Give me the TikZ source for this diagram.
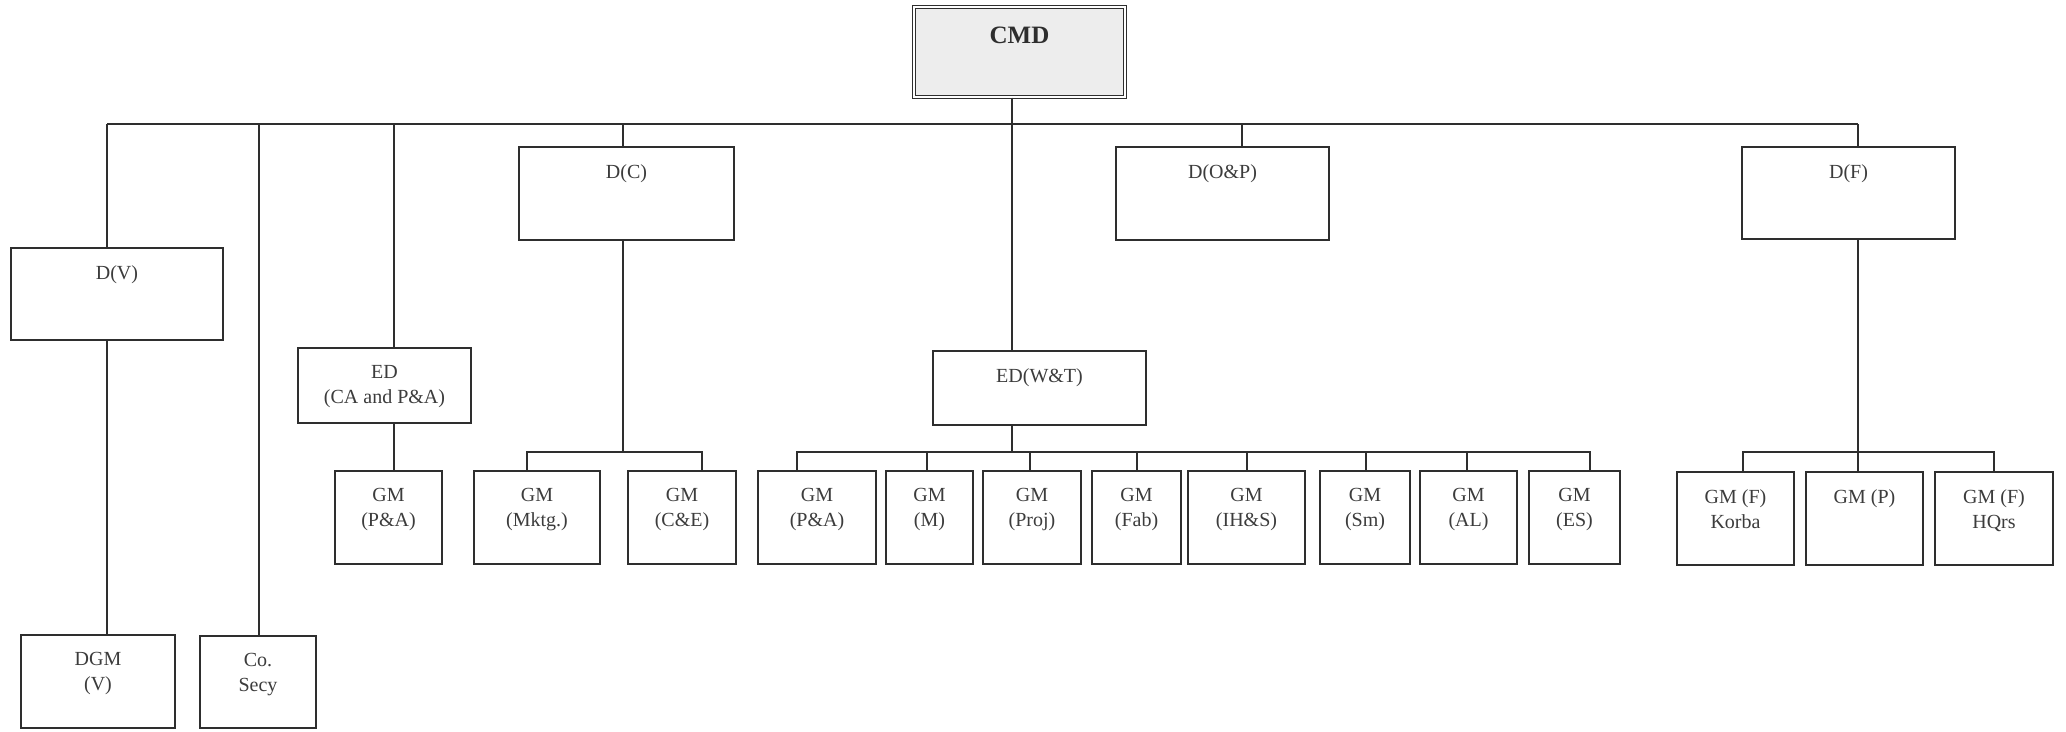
\documentclass[tikz,border=0pt]{standalone}
\usepackage{fontspec}
\setmainfont{Liberation Serif}
\definecolor{linec}{HTML}{2E2E2E}
\definecolor{textc}{HTML}{3C3C3C}
\definecolor{cmdfill}{HTML}{EDEDED}
\tikzset{
  box/.style={draw=linec, line width=2pt, rectangle, inner sep=0pt, outer sep=0pt, fill=white},
  txt/.style={anchor=north, align=center, inner sep=0pt, text=textc,
              font=\fontsize{20}{25}\selectfont, yshift=-17pt},
  conn/.style={draw=linec, line width=2pt},
}
\newcommand{\bx}[6]{% name, cx, cy, w, h, text
  \node[box, minimum width=#4pt, minimum height=#5pt,
        label={[txt]north:#6}] (#1) at (#2,#3) {};}
\begin{document}
\begin{tikzpicture}[x=1pt, y=-1pt]
\useasboundingbox (0,0) rectangle (2066,731);

% top node
\node[draw=linec, line width=1.4pt, double=white, double distance=1.8pt,
      fill=cmdfill, minimum width=211pt, minimum height=90pt, inner sep=0pt,
      label={[txt, yshift=-3pt, font=\fontsize{25}{30}\selectfont\bfseries, text=linec]north:CMD}]
      (CMD) at (1019.5,52) {};

% level 1
\bx{DV}{117}{294}{212}{92}{D(V)}
\bx{EDCA}{384.5}{385.5}{173}{75}{ED\\(CA and P\&A)}
\bx{DC}{626.5}{193.5}{215}{93}{D(C)}
\bx{EDWT}{1039.5}{388}{213}{74}{ED(W\&T)}
\bx{DOP}{1222.5}{193.5}{213}{93}{D(O\&P)}
\bx{DF}{1848.5}{193}{213}{92}{D(F)}

% bottom-left
\bx{DGM}{98}{681.5}{154}{93}{DGM\\(V)}
\bx{CoSecy}{258}{682}{116}{92}{Co.\\Secy}

% GM row
\bx{PA1}{388.5}{517.5}{107}{93}{GM\\(P\&A)}
\bx{Mktg}{537}{517.5}{126}{93}{GM\\(Mktg.)}
\bx{CE}{682}{517.5}{108}{93}{GM\\(C\&E)}
\bx{PA2}{817}{517.5}{118}{93}{GM\\(P\&A)}
\bx{M}{929.5}{517.5}{87}{93}{GM\\(M)}
\bx{Proj}{1032}{517.5}{98}{93}{GM\\(Proj)}
\bx{Fab}{1136.5}{517.5}{89}{93}{GM\\(Fab)}
\bx{IHS}{1246.5}{517.5}{117}{93}{GM\\(IH\&S)}
\bx{Sm}{1365}{517.5}{90}{93}{GM\\(Sm)}
\bx{AL}{1468.5}{517.5}{97}{93}{GM\\(AL)}
\bx{ES}{1574.5}{517.5}{91}{93}{GM\\(ES)}
\bx{Korba}{1735.5}{518.5}{117}{93}{GM (F)\\Korba}
\bx{GMP}{1864.5}{518.5}{117}{93}{GM (P)}
\bx{HQrs}{1994}{518.5}{118}{93}{GM (F)\\HQrs}

% bus coordinates
\coordinate (bL) at (107,124);
\coordinate (bR) at (1858,124);
\coordinate (cSe) at (259,124);
\coordinate (cCA) at (394,124);
\coordinate (cDC) at (623,124);
\coordinate (cW) at (1012,124);
\coordinate (cOP) at (1242,124);
\coordinate (jC) at (623,452);
\coordinate (jW) at (1012,452);
\coordinate (jF) at (1858,452);

% main bus
\draw[conn] (bL) -- (bR);
\draw[conn] (CMD.south -| cW) -- (EDWT.north -| cW);
\draw[conn] (bL) -- (bL |- DV.north);
\draw[conn] (DV.south -| bL) -- (DGM.north -| bL);
\draw[conn] (cSe) -- (cSe |- CoSecy.north);
\draw[conn] (cCA) -- (cCA |- EDCA.north);
\draw[conn] (EDCA.south -| cCA) -- (PA1.north -| cCA);
\draw[conn] (cDC) -- (cDC |- DC.north);
\draw[conn] (cOP) -- (cOP |- DOP.north);
\draw[conn] (bR) -- (bR |- DF.north);

% D(C) group
\draw[conn] (DC.south -| jC) -- (jC);
\draw[conn] ([xshift=-10pt]Mktg.north) |- (jC) -| ([xshift=20pt]CE.north);

% ED(W&T) group
\draw[conn] (EDWT.south -| jW) -- (jW);
\draw[conn] ([xshift=-20pt]PA2.north) |- ([xshift=15.5pt]ES.north |- jW) -- ([xshift=15.5pt]ES.north);
\foreach \n/\s in {M/-2.5,Proj/-2,Fab/0.5,IHS/0.5,Sm/1,AL/-1.5}
  \draw[conn] ([xshift=\s pt]\n.north) -- ([xshift=\s pt]\n.north |- jW);

% D(F) group
\draw[conn] (DF.south -| jF) -- (GMP.north -| jF);
\draw[conn] ([xshift=7.5pt]Korba.north) |- (HQrs.north |- jF) -- (HQrs.north);
\end{tikzpicture}
\end{document}
